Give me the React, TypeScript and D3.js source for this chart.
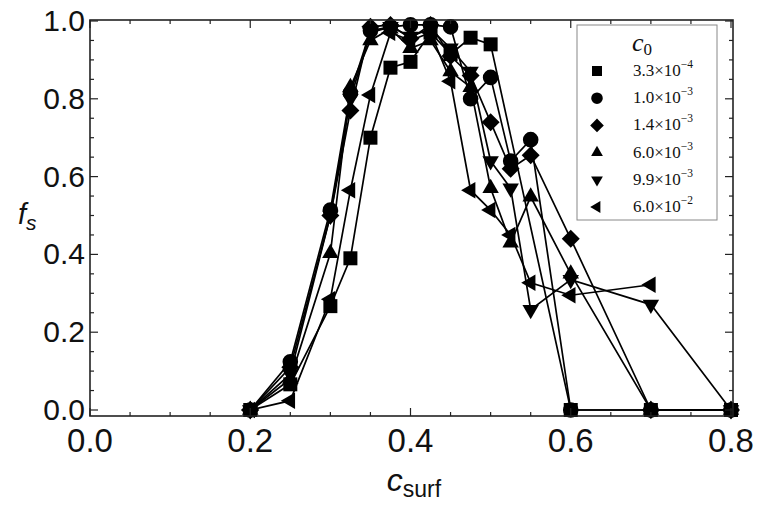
import { useEffect, useRef } from "react";
import * as d3 from "d3";

// c_surf positions and f_s values for each c0 series
const sqX = [0.2, 0.25, 0.3, 0.325, 0.35, 0.375, 0.4, 0.425, 0.45, 0.475, 0.5, 0.6, 0.7, 0.8];
const sqY = [0, 0.066, 0.267, 0.39, 0.7, 0.88, 0.895, 0.97, 0.915, 0.957, 0.94, 0, 0, 0];

const ciX = [0.2, 0.25, 0.3, 0.325, 0.35, 0.375, 0.4, 0.425, 0.45, 0.475, 0.5, 0.525, 0.55, 0.6, 0.7, 0.8];
const ciY = [0, 0.124, 0.514, 0.815, 0.975, 0.985, 0.99, 0.99, 0.985, 0.8, 0.855, 0.64, 0.695, 0, 0, 0];

const diX = [0.2, 0.25, 0.3, 0.325, 0.35, 0.375, 0.4, 0.425, 0.45, 0.475, 0.5, 0.525, 0.55, 0.6, 0.7, 0.8];
const diY = [0, 0.11, 0.5, 0.77, 0.985, 0.99, 0.955, 0.99, 0.91, 0.86, 0.74, 0.62, 0.655, 0.44, 0, 0];

const upX = [0.2, 0.25, 0.3, 0.325, 0.35, 0.375, 0.4, 0.425, 0.45, 0.475, 0.5, 0.525, 0.55, 0.6, 0.7, 0.8];
const upY = [0, 0.08, 0.403, 0.83, 0.95, 0.98, 0.93, 0.95, 0.87, 0.83, 0.57, 0.43, 0.548, 0.35, 0, 0];

const dnX = [0.2, 0.25, 0.3, 0.325, 0.35, 0.375, 0.4, 0.425, 0.45, 0.475, 0.5, 0.525, 0.55, 0.6, 0.7, 0.8];
const dnY = [0, 0.092, 0.5, 0.8, 0.97, 0.985, 0.96, 0.98, 0.93, 0.87, 0.64, 0.57, 0.258, 0.335, 0.271, 0];

const lfX = [0.2, 0.25, 0.3, 0.325, 0.35, 0.375, 0.4, 0.425, 0.45, 0.475, 0.5, 0.525, 0.55, 0.6, 0.7];
const lfY = [0, 0.024, 0.285, 0.565, 0.81, 0.97, 0.95, 0.97, 0.845, 0.565, 0.514, 0.45, 0.327, 0.295, 0.322];

const legendMant = ["3.3", "1.0", "1.4", "6.0", "9.9", "6.0"];
const legendExp = ["\u22124", "\u22123", "\u22123", "\u22123", "\u22123", "\u22122"];
const markerKinds = ["square", "circle", "diamond", "up", "down", "left"];

const xTicks = [0, 0.2, 0.4, 0.6, 0.8];
const yTicks = [0, 0.2, 0.4, 0.6, 0.8, 1.0];

const markerPath = (kind: string, s: number) => {
  const h = Math.sin(Math.PI / 3);
  switch (kind) {
    case "square":
      return `M${-s},${-s}H${s}V${s}H${-s}Z`;
    case "circle":
      return `M${s},0A${s},${s} 0 1,1 ${-s},0A${s},${s} 0 1,1 ${s},0Z`;
    case "diamond":
      return `M0,${-s}L${s},0L0,${s}L${-s},0Z`;
    case "up":
      return `M0,${-s}L${s * h},${s / 2}L${-s * h},${s / 2}Z`;
    case "down":
      return `M0,${s}L${s * h},${-s / 2}L${-s * h},${-s / 2}Z`;
    default:
      return `M${-s},0L${s / 2},${-s * h}L${s / 2},${s * h}Z`;
  }
};

const plotSize: Record<string, number> = {
  square: 7,
  circle: 7.8,
  diamond: 9,
  up: 9.5,
  down: 9.5,
  left: 9.5,
};

const Chart = () => {
  const ref = useRef<SVGSVGElement>(null);

  useEffect(() => {
    const svg = d3.select(ref.current);
    svg.selectAll("*").remove();

    const x = d3.scaleLinear().domain([0, 0.8]).range([90, 731]);
    const y = d3.scaleLinear().domain([0, 1]).range([410, 21]);

    const frame = { l: 90, r: 733, t: 20, b: 416 };

    const series = [
      [sqX, sqY],
      [ciX, ciY],
      [diX, diY],
      [upX, upY],
      [dnX, dnY],
      [lfX, lfY],
    ];

    const line = d3
      .line<number[]>()
      .x((d) => x(d[0]))
      .y((d) => y(d[1]));

    const plot = svg.append("g");

    series.forEach(([xs, ys]) => {
      const pts = xs.map((v, j) => [v, ys[j]]);
      plot
        .append("path")
        .attr("d", line(pts))
        .attr("fill", "none")
        .attr("stroke", "black")
        .attr("stroke-width", 1.7);
    });

    series.forEach(([xs, ys], i) => {
      const kind = markerKinds[i];
      plot
        .selectAll(null)
        .data(xs.map((v, j) => [v, ys[j]]))
        .enter()
        .append("path")
        .attr("transform", (d) => `translate(${x(d[0])},${y(d[1])})`)
        .attr("d", markerPath(kind, plotSize[kind]))
        .attr("fill", "black");
    });

    // frame
    svg
      .append("rect")
      .attr("x", frame.l)
      .attr("y", frame.t)
      .attr("width", frame.r - frame.l)
      .attr("height", frame.b - frame.t)
      .attr("fill", "none")
      .attr("stroke", "#222")
      .attr("stroke-width", 1.6);

    // ticks on all four sides
    const ticks = svg.append("g").attr("stroke", "#222").attr("stroke-width", 1.2);
    d3.range(0, 0.8001, 0.05).forEach((v) => {
      const major = Math.abs(v / 0.2 - Math.round(v / 0.2)) < 1e-6;
      const len = major ? 8 : 4;
      ticks.append("line").attr("x1", x(v)).attr("x2", x(v)).attr("y1", frame.b).attr("y2", frame.b - len);
      ticks.append("line").attr("x1", x(v)).attr("x2", x(v)).attr("y1", frame.t).attr("y2", frame.t + len);
    });
    d3.range(0, 1.0001, 0.05).forEach((v) => {
      const major = Math.abs(v / 0.2 - Math.round(v / 0.2)) < 1e-6;
      const len = major ? 8 : 4;
      ticks.append("line").attr("x1", frame.l).attr("x2", frame.l + len).attr("y1", y(v)).attr("y2", y(v));
      ticks.append("line").attr("x1", frame.r).attr("x2", frame.r - len).attr("y1", y(v)).attr("y2", y(v));
    });

    const font = "'Liberation Sans', Arial, sans-serif";

    svg
      .append("g")
      .selectAll("text")
      .data(xTicks)
      .enter()
      .append("text")
      .attr("x", (d) => x(d))
      .attr("y", 452)
      .attr("text-anchor", "middle")
      .attr("font-family", font)
      .attr("font-size", 33)
      .attr("fill", "#111")
      .text((d) => d.toFixed(1));

    svg
      .append("g")
      .selectAll("text")
      .data(yTicks)
      .enter()
      .append("text")
      .attr("x", 85)
      .attr("y", (d) => y(d) + 10)
      .attr("text-anchor", "end")
      .attr("font-family", font)
      .attr("font-size", 30)
      .attr("fill", "#111")
      .text((d) => d.toFixed(1));

    // axis labels
    const xl = svg
      .append("text")
      .attr("x", 414)
      .attr("y", 491)
      .attr("text-anchor", "middle")
      .attr("font-family", font)
      .attr("fill", "#111");
    xl.append("tspan").attr("font-size", 32).attr("font-style", "italic").text("c");
    xl.append("tspan").attr("font-size", 23).attr("dy", 6).text("surf");

    const yl = svg
      .append("text")
      .attr("x", 18)
      .attr("y", 224)
      .attr("font-family", font)
      .attr("fill", "#111");
    yl.append("tspan").attr("font-size", 29).attr("font-style", "italic").text("f");
    yl.append("tspan").attr("font-size", 21).attr("font-style", "italic").attr("dy", 6).text("s");

    // legend
    const lg = svg.append("g");
    lg.append("rect")
      .attr("x", 577)
      .attr("y", 25)
      .attr("width", 140)
      .attr("height", 195)
      .attr("fill", "white")
      .attr("stroke", "#888")
      .attr("stroke-width", 1);

    const serif = "'Liberation Serif', 'Times New Roman', serif";
    const title = lg
      .append("text")
      .attr("x", 632)
      .attr("y", 51)
      .attr("font-family", serif)
      .attr("fill", "#111");
    title.append("tspan").attr("font-size", 26).attr("font-style", "italic").text("c");
    title.append("tspan").attr("font-size", 17).attr("dy", 4).text("0");

    const rowY = d3.scaleLinear().domain([0, 5]).range([71, 207]);
    legendMant.forEach((m, i) => {
      const cy = rowY(i);
      const k = markerKinds[i];
      lg.append("path")
        .attr("transform", `translate(597,${cy})`)
        .attr("d", markerPath(k, k === "square" ? 5 : k === "circle" ? 5.8 : 6.8))
        .attr("fill", "black");
      const t = lg
        .append("text")
        .attr("x", 633)
        .attr("y", cy + 5)
        .attr("font-family", serif)
        .attr("font-size", 17)
        .attr("fill", "#111");
      t.append("tspan").text(`${m}\u00d710`);
      t.append("tspan").attr("font-size", 11.5).attr("dy", -8).text(legendExp[i]);
    });
  }, []);

  return <svg ref={ref} width={766} height={511} style={{ display: "block", background: "white" }} />;
};

export default function App() {
  useEffect(() => {
    document.body.style.margin = "0";
  }, []);
  return <Chart />;
}
